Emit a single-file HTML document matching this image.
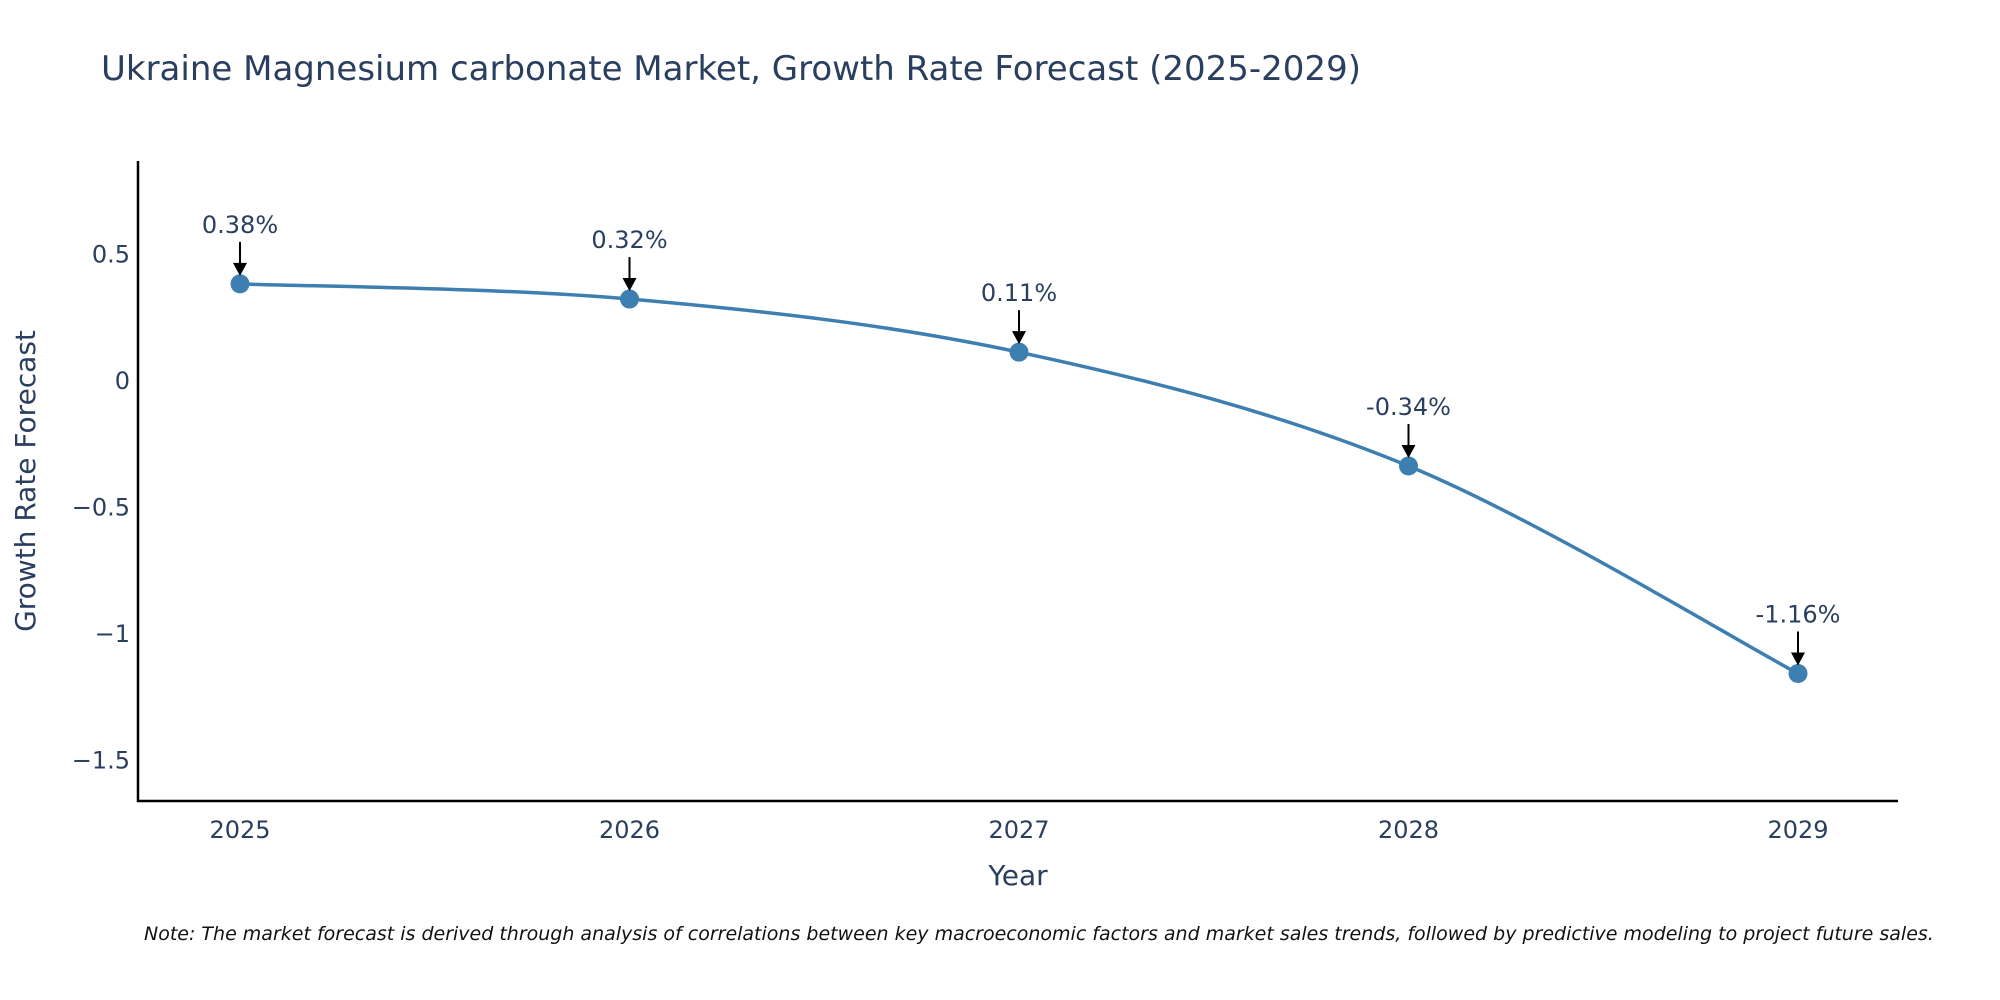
<!DOCTYPE html>
<html><head><meta charset="utf-8"><style>
html,body{margin:0;padding:0;background:#fff;}
svg{display:block;font-family:"DejaVu Sans","Liberation Sans",sans-serif;}
</style></head><body>
<svg id="chart" width="2000" height="1000" viewBox="0 0 2000 1000">
<text x="101" y="80" font-size="34" fill="#2a3f5f">Ukraine Magnesium carbonate Market, Growth Rate Forecast (2025-2029)</text>
<g id="yticks"></g>
<g id="xticks"></g>
<line x1="138" y1="161" x2="138" y2="802" stroke="#000" stroke-width="2.5"/>
<line x1="137" y1="801" x2="1898" y2="801" stroke="#000" stroke-width="2.5"/>
<path id="line" fill="none" stroke="#3d7fb0" stroke-width="3.5"/>
<g id="marks"></g>
<text x="1018" y="885" font-size="28" fill="#2a3f5f" text-anchor="middle">Year</text>
<text transform="translate(35,481) rotate(-90)" font-size="28" fill="#2a3f5f" text-anchor="middle">Growth Rate Forecast</text>
<text x="144" y="940" font-size="19" font-style="italic" fill="#111">Note: The market forecast is derived through analysis of correlations between key macroeconomic factors and market sales trends, followed by predictive modeling to project future sales.</text>
</svg>
<script>
const years = [2025, 2026, 2027, 2028, 2029];
const growth = [0.38, 0.32, 0.11, -0.34, -1.16];
const labels = ["0.38%", "0.32%", "0.11%", "-0.34%", "-1.16%"];
const yTickVals = [0.5, 0, -0.5, -1, -1.5];
const yTickLabels = ["0.5", "0", "\u22120.5", "\u22121", "\u22121.5"];
const NS = "http://www.w3.org/2000/svg";
function xs(v){ return 240 + (v - 2025) * 389.5; }
function ys(v){ return 380 - v * 253; }
function mk(tag, attrs, parent){ const e = document.createElementNS(NS, tag); for (const k in attrs) e.setAttribute(k, attrs[k]); parent.appendChild(e); return e; }
const yt = document.getElementById('yticks');
yTickVals.forEach((v,i)=>{
  const t = mk('text',{x:130,y:ys(v)+9,'font-size':24,fill:'#2a3f5f','text-anchor':'end'},yt);
  
  
  t.textContent = yTickLabels[i];
});
const xt = document.getElementById('xticks');
years.forEach(y=>{
  const t = mk('text',{x:xs(y),y:838,'font-size':24,fill:'#2a3f5f','text-anchor':'middle'},xt);
  
  
  t.textContent = String(y);
});
const pts = years.map((y,i)=>[xs(y), ys(growth[i])]);
let d = 'M' + pts[0][0] + ',' + pts[0][1];
for (let i=0;i<pts.length-1;i++){
  const p0 = pts[Math.max(0,i-1)], p1 = pts[i], p2 = pts[i+1], p3 = pts[Math.min(pts.length-1,i+2)];
  const s = 1/6;
  const c1 = [p1[0]+(p2[0]-p0[0])*s, p1[1]+(p2[1]-p0[1])*s];
  const c2 = [p2[0]-(p3[0]-p1[0])*s, p2[1]-(p3[1]-p1[1])*s];
  d += ' C'+c1[0]+','+c1[1]+' '+c2[0]+','+c2[1]+' '+p2[0]+','+p2[1];
}
document.getElementById('line').setAttribute('d', d);
const g = document.getElementById('marks');
pts.forEach((p,i)=>{
  const c = mk('circle',{cx:p[0],cy:p[1],r:9.5,fill:'#3d7fb0'},g);
  
  
  const l = mk('line',{x1:p[0],y1:p[1]-42,x2:p[0],y2:p[1]-20,stroke:'#000','stroke-width':2},g);
  
  
  const a = mk('polygon',{points:(p[0]-7)+','+(p[1]-21)+' '+(p[0]+7)+','+(p[1]-21)+' '+p[0]+','+(p[1]-8),fill:'#000'},g);
  
  
  const t = mk('text',{x:p[0],y:p[1]-51,'font-size':24,fill:'#2a3f5f','text-anchor':'middle'},g);
  
  
  t.textContent = labels[i];
});
</script>
</body></html>
